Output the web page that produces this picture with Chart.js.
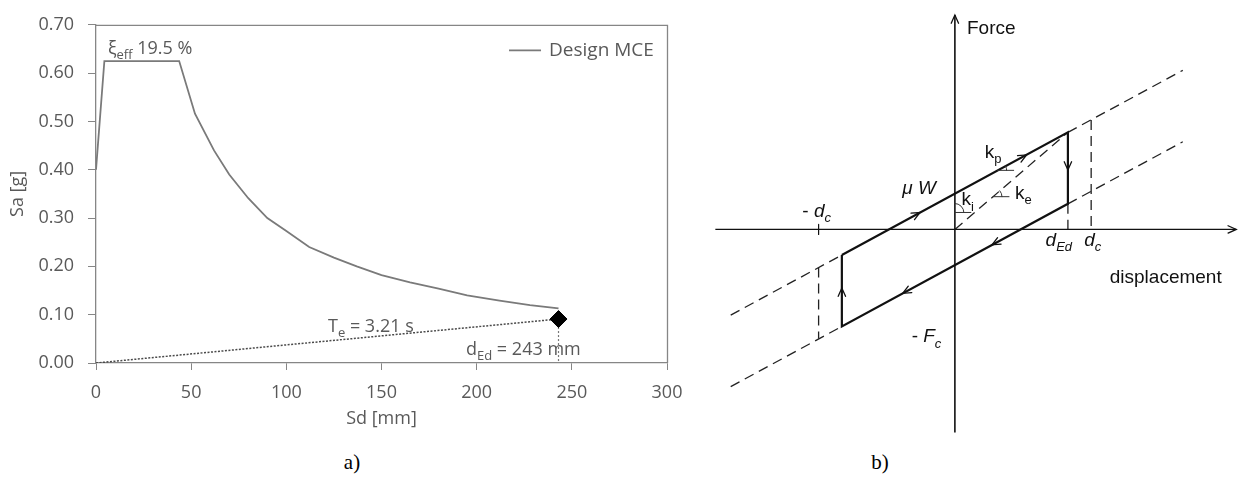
<!DOCTYPE html>
<html><head><meta charset="utf-8">
<script src="https://cdn.jsdelivr.net/npm/chart.js@4.4.1/dist/chart.umd.min.js"></script>
<style>
html,body{margin:0;padding:0;background:#fff;width:1240px;height:482px;overflow:hidden}
#wa{position:absolute;left:0;top:0;width:700px;height:440px}
#wb{position:absolute;left:700px;top:0;width:540px;height:440px}
.cap{position:absolute;top:450px;line-height:24px;font-family:"Liberation Serif",serif;font-size:21px;color:#000;width:60px;text-align:center}
</style></head><body>
<div id="wa"><canvas id="ca" width="700" height="440"></canvas></div>
<div id="wb"><canvas id="cb" width="540" height="440"></canvas></div>
<div class="cap" style="left:322px">a)</div>
<div class="cap" style="left:850px">b)</div>
<script>
// ---------- Panel a) data ----------
const sdMCE = [0, 4.4, 43.7, 52, 62, 70, 80, 90, 100, 112, 125, 137, 150, 165, 180, 195, 212, 228, 243];
const saMCE = [0.400, 0.625, 0.625, 0.516, 0.440, 0.390, 0.341, 0.300, 0.273, 0.240, 0.218, 0.200, 0.182, 0.167, 0.154, 0.140, 0.129, 0.120, 0.113];
const sdTe = [0, 243];
const saTe = [0, 0.091];
const sdPerf = [243];
const saPerf = [0.091];
const sdDrop = [243, 243];
const saDrop = [0.091, 0];
const sdTicks = [0, 50, 100, 150, 200, 250, 300];
const saTicks = [0, 0.1, 0.2, 0.3, 0.4, 0.5, 0.6, 0.7];

// ---------- Panel b) data (schematic units: d [mm], F) ----------
const loopD = [-243, 243, 243, -243, -243];
const loopF = [-68, 258, 68, -258, -68];
const upLeftD = [-482, -243], upLeftF = [-228, -68];
const upRightD = [243, 490], upRightF = [258, 423];
const loLeftD = [-482, -243], loLeftF = [-418, -258];
const loRightD = [243, 490], loRightF = [68, 233];
const secantD = [0, 243], secantF = [0, 258];
const dEdLineD = [243, 243], dEdLineF = [68, 0];
const dcLineD = [293, 293], dcLineF = [291, 0];
const negDcLineD = [-293, -293], negDcLineF = [-101, -291];
const axisXD = [-515, 605], axisXF = [0, 0];
const axisYD = [0, 0], axisYF = [-540, 570];
const arrowD = [-75, 154, 80, -112, 243, -243, 605, 0];
const arrowF = [45, 198, -41, -170, 158, -156, 0, 570];
const arrowDirD = [1, 1, -1, -1, 0, 0, 1, 0];
const arrowDirF = [0.67, 0.67, -0.67, -0.67, -1, 1, 0, 1];

function pts(xs, ys) { return xs.map((x, i) => ({x: x, y: ys[i]})); }

const OS = '"Open Sans", "Noto Sans", sans-serif';
const AR = '"Liberation Sans", Arial, sans-serif';
const GREY_TXT = '#595959';
const AX = '#868686';

function rich(ctx, x, y, parts, size, family, color, align) {
  const fontFor = p => (p[1].includes('i') ? 'italic ' : '') + (p[1].includes('s') ? Math.round(size * 0.7) : size) + 'px ' + family;
  const w = parts.map(p => { ctx.font = fontFor(p); return ctx.measureText(p[0]).width; });
  const total = w.reduce((a, b) => a + b, 0);
  let cx = align === 'center' ? x - total / 2 : (align === 'right' ? x - total : x);
  ctx.fillStyle = color;
  ctx.textAlign = 'left';
  ctx.textBaseline = 'alphabetic';
  parts.forEach((p, i) => {
    ctx.font = fontFor(p);
    ctx.fillText(p[0], cx, y + (p[1].includes('s') ? size * 0.28 : 0));
    cx += w[i];
  });
}

// annotation positions (in data coordinates)
const annA = [
  {x: 6.3, y: 0.640, parts: [['ξ', ''], ['eff', 's'], [' 19.5 %', '']]},
  {x: 121.9, y: 0.0643, parts: [['T', ''], ['e', 's'], [' = 3.21 s', '']]},
  {x: 194.4, y: 0.0163, parts: [['d', ''], ['Ed', 's'], [' = 243 mm', '']]}
];
const legendPos = {x: 217, y: 0.647};

const annAPlugin = {
  id: 'annA',
  afterDatasetsDraw(chart) {
    const {ctx, chartArea: a, scales: {x, y}} = chart;
    ctx.save();
    ctx.strokeStyle = AX; ctx.lineWidth = 1.3;
    ctx.beginPath();
    ctx.moveTo(a.left, a.top + 0.5); ctx.lineTo(a.right + 0.5, a.top + 0.5); ctx.lineTo(a.right + 0.5, a.bottom);
    ctx.stroke();
    annA.forEach(t => rich(ctx, x.getPixelForValue(t.x), y.getPixelForValue(t.y), t.parts, 18, OS, GREY_TXT, 'left'));
    // legend (series name and style taken from the dataset)
    const ds = chart.data.datasets[1];
    const lx = x.getPixelForValue(legendPos.x), ly = y.getPixelForValue(legendPos.y);
    ctx.strokeStyle = ds.borderColor; ctx.lineWidth = ds.borderWidth;
    ctx.beginPath(); ctx.moveTo(lx, ly); ctx.lineTo(lx + 32, ly); ctx.stroke();
    ctx.fillStyle = GREY_TXT; ctx.font = '19px ' + OS; ctx.textAlign = 'left'; ctx.textBaseline = 'middle';
    ctx.fillText(ds.label, lx + 40, ly);
    ctx.restore();
  }
};

new Chart(document.getElementById('ca'), {
  type: 'scatter',
  data: {
    datasets: [
      {label: 'perf', data: pts(sdPerf, saPerf), pointStyle: 'rectRot', pointRadius: 8.5, pointBackgroundColor: '#000', pointBorderColor: '#000', showLine: false},
      {label: 'Design MCE', data: pts(sdMCE, saMCE), showLine: true, borderColor: '#7a7a7a', borderWidth: 1.8, pointRadius: 0, tension: 0},
      {label: 'Te', data: pts(sdTe, saTe), showLine: true, borderColor: '#4a4a4a', borderWidth: 1.5, borderDash: [2, 1.5], pointRadius: 0},
      {label: 'drop', data: pts(sdDrop, saDrop), showLine: true, borderColor: '#777', borderWidth: 1.2, borderDash: [2, 2], pointRadius: 0}
    ]
  },
  options: {
    responsive: false, animation: false,
    layout: {padding: {left: 0, top: 20, right: 33, bottom: 0}},
    plugins: {tooltip: {enabled: false}, legend: {display: false}},
    scales: {
      x: {
        type: 'linear', min: 0, max: 300,
        afterFit: s => { s.height = 77; },
        afterBuildTicks: s => { s.ticks = sdTicks.map(v => ({value: v})); },
        ticks: {color: GREY_TXT, font: {family: OS, size: 18}, padding: 12},
        grid: {drawOnChartArea: false, drawTicks: true, tickLength: 7, color: AX},
        border: {color: AX, width: 1.3},
        title: {display: true, text: 'Sd [mm]', color: GREY_TXT, font: {family: OS, size: 18}, padding: {top: 0, bottom: 10}}
      },
      y: {
        type: 'linear', min: 0, max: 0.7,
        afterFit: s => { s.width = 96; },
        afterBuildTicks: s => { s.ticks = saTicks.map(v => ({value: v})); },
        ticks: {color: GREY_TXT, font: {family: OS, size: 18}, padding: 14, callback: v => v.toFixed(2)},
        grid: {drawOnChartArea: false, drawTicks: true, tickLength: 8, color: AX},
        border: {color: AX, width: 1.3},
        title: {display: true, text: 'Sa [g]', color: GREY_TXT, font: {family: OS, size: 18}, padding: {top: 7, bottom: 0}}
      }
    }
  },
  plugins: [annAPlugin]
});

// ---------- Panel b) ----------
const annB = [
  {x: 26, y: 519, parts: [['Force', '']], size: 19},
  {x: 333, y: -143, parts: [['displacement', '']], size: 19},
  {x: -328, y: 33, parts: [['- ', ''], ['d', 'i'], ['c', 'si']], size: 19},
  {x: 195, y: -43, parts: [['d', 'i'], ['Ed', 'si']], size: 19},
  {x: 278, y: -43, parts: [['d', 'i'], ['c', 'si']], size: 19},
  {x: -113, y: 95, parts: [['μ', 'i'], [' W', 'i']], size: 19},
  {x: 64, y: 191, parts: [['k', ''], ['p', 's']], size: 19},
  {x: 129, y: 82, parts: [['k', ''], ['e', 's']], size: 19},
  {x: 14, y: 64, parts: [['k', ''], ['i', 's']], size: 19},
  {x: -93, y: -300, parts: [['- ', ''], ['F', 'i'], ['c', 'si']], size: 19}
];
// angle marks: start point on line (d,F), slope of line in data units
const markD = [92, 82, 0];
const markF = [157, 87, 45];
const markSlope = [0.67, 1.062, 999];

const annBPlugin = {
  id: 'annB',
  afterDatasetsDraw(chart) {
    const {ctx, scales: {x, y}} = chart;
    ctx.save();
    ctx.strokeStyle = '#111'; ctx.lineWidth = 1.3; ctx.lineCap = 'round';
    arrowD.forEach((d, i) => {
      const px = x.getPixelForValue(d), py = y.getPixelForValue(arrowF[i]);
      const qx = x.getPixelForValue(d + arrowDirD[i] * 10), qy = y.getPixelForValue(arrowF[i] + arrowDirF[i] * 10);
      const ang = Math.atan2(qy - py, qx - px);
      const L = 9, spread = 0.42;
      ctx.beginPath();
      ctx.moveTo(px - L * Math.cos(ang - spread), py - L * Math.sin(ang - spread));
      ctx.lineTo(px, py);
      ctx.lineTo(px - L * Math.cos(ang + spread), py - L * Math.sin(ang + spread));
      ctx.stroke();
    });
    ctx.lineWidth = 1.2;
    ctx.beginPath();
    const tx = x.getPixelForValue(-293), ty = y.getPixelForValue(0);
    ctx.moveTo(tx, ty - 5); ctx.lineTo(tx, ty + 5);
    ctx.stroke();
    ctx.strokeStyle = '#333'; ctx.lineWidth = 1;
    markD.forEach((d, i) => {
      const px = x.getPixelForValue(d), py = y.getPixelForValue(markF[i]);
      const qx = x.getPixelForValue(d + (markSlope[i] > 100 ? 0 : 10)), qy = y.getPixelForValue(markF[i] + (markSlope[i] > 100 ? 10 : 10 * markSlope[i]));
      const ang = Math.atan2(qy - py, qx - px);
      ctx.beginPath();
      ctx.moveTo(px, py); ctx.lineTo(px + 16, py);
      ctx.stroke();
      ctx.beginPath();
      ctx.arc(px, py, 9, ang, 0);
      ctx.stroke();
    });
    annB.forEach(t => rich(ctx, x.getPixelForValue(t.x), y.getPixelForValue(t.y), t.parts, t.size, AR, '#111', 'left'));
    ctx.restore();
  }
};

const solid = (lbl, xs, ys, w) => ({label: lbl, data: pts(xs, ys), showLine: true, borderColor: '#111', borderWidth: w, pointRadius: 0, tension: 0});
const dashed = (lbl, xs, ys) => ({label: lbl, data: pts(xs, ys), showLine: true, borderColor: '#222', borderWidth: 1.3, borderDash: [10, 6], pointRadius: 0, tension: 0});

new Chart(document.getElementById('cb'), {
  type: 'scatter',
  data: {
    datasets: [
      solid('axisX', axisXD, axisXF, 1.4),
      solid('axisY', axisYD, axisYF, 1.6),
      solid('loop', loopD, loopF, 2.2),
      dashed('upLeft', upLeftD, upLeftF),
      dashed('upRight', upRightD, upRightF),
      dashed('loLeft', loLeftD, loLeftF),
      dashed('loRight', loRightD, loRightF),
      dashed('secant', secantD, secantF),
      dashed('dEd', dEdLineD, dEdLineF),
      dashed('dc', dcLineD, dcLineF),
      dashed('negDc', negDcLineD, negDcLineF)
    ]
  },
  options: {
    responsive: false, animation: false,
    layout: {padding: 0},
    plugins: {legend: {display: false}, tooltip: {enabled: false}},
    scales: {
      x: {type: 'linear', display: false, min: -548, max: 613},
      y: {type: 'linear', display: false, min: -560, max: 610}
    }
  },
  plugins: [annBPlugin]
});
</script>
</body></html>
